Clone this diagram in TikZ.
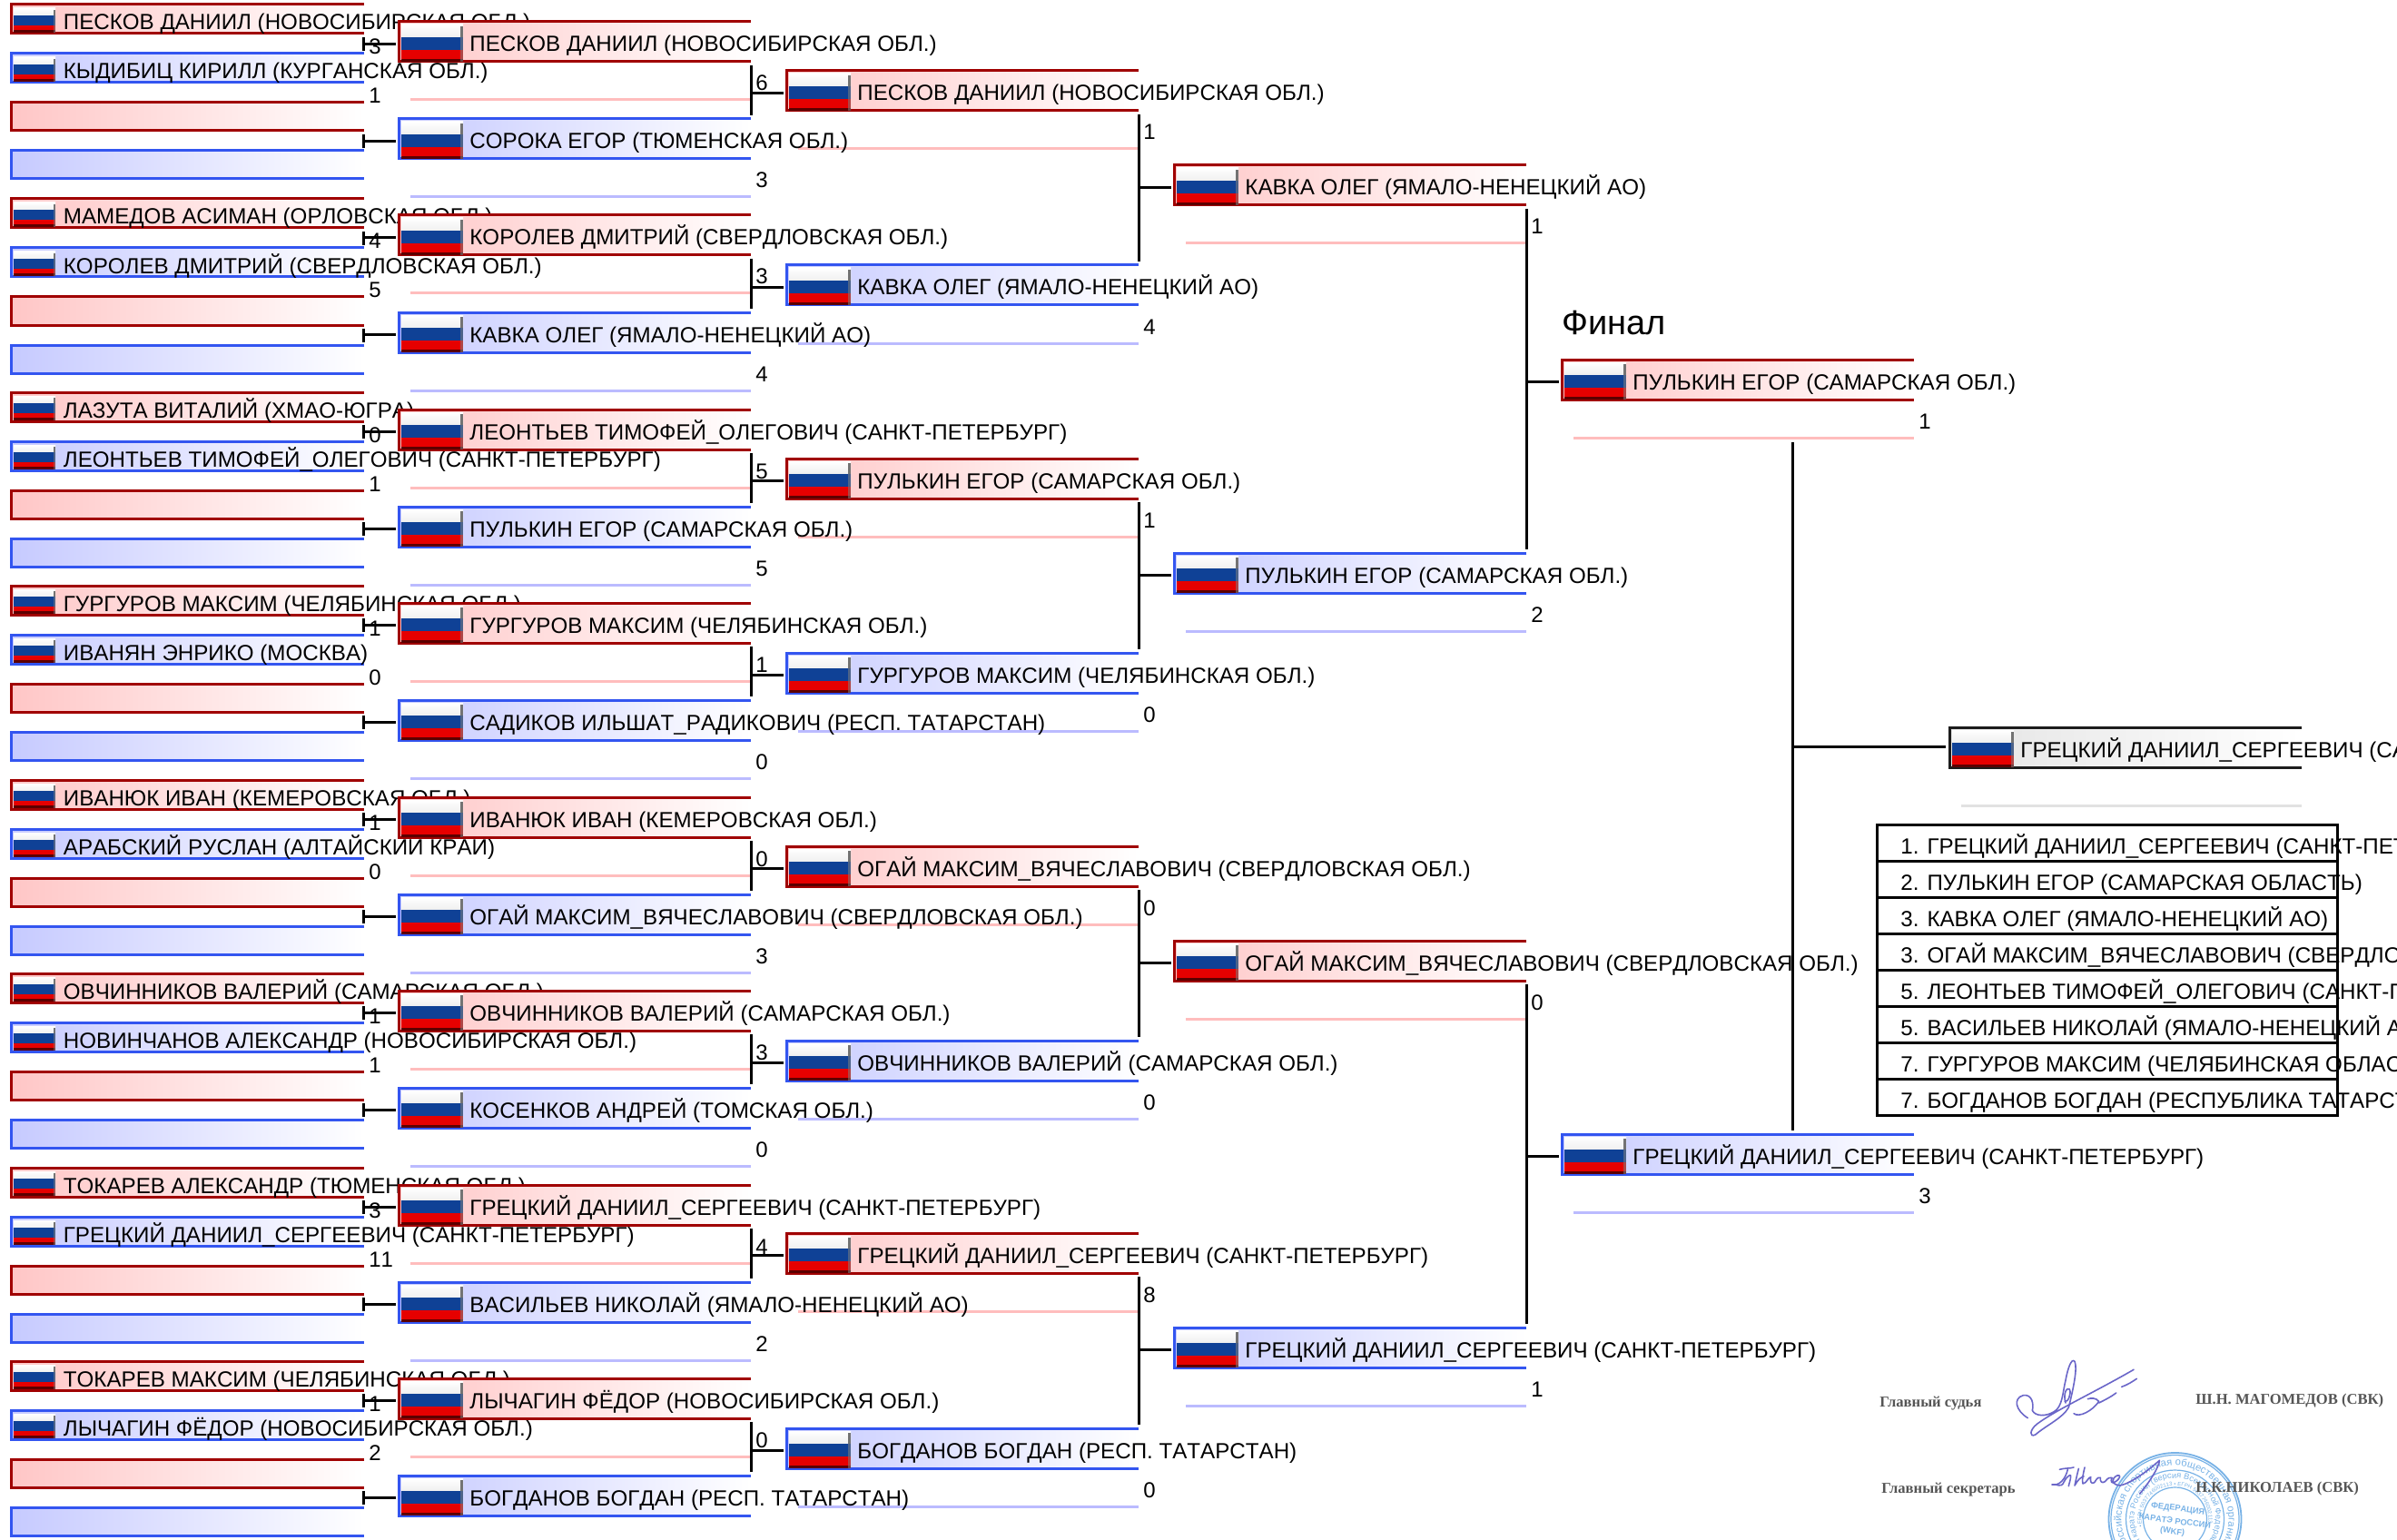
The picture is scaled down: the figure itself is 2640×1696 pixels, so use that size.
\documentclass[tikz,border=0pt]{standalone}
\usepackage{fontspec}
\setmainfont{Liberation Sans}[Kerning=Off]
\newfontfamily\serifb{Liberation Serif}[BoldFont={Liberation Serif Bold}]
\usetikzlibrary{decorations.text}
\pgfdeclarelayer{under}
\pgfsetlayers{under,main}
\definecolor{edgeR}{HTML}{A00000}
\definecolor{fillR}{HTML}{FFC6C6}
\definecolor{lineR}{HTML}{FFBDBD}
\definecolor{edgeB}{HTML}{3355F0}
\definecolor{fillB}{HTML}{C6CAFF}
\definecolor{lineB}{HTML}{BBBBFF}
\definecolor{edgeK}{HTML}{1C1C1C}
\definecolor{fillK}{HTML}{E4E4E4}
\definecolor{lineK}{HTML}{E2E2E2}
\definecolor{stampc}{HTML}{78B2E6}
\definecolor{signc}{HTML}{6A66C8}
\definecolor{signt}{HTML}{555555}
\definecolor{flagB}{HTML}{0F4196}
\definecolor{flagR}{HTML}{E60000}
\definecolor{flagD}{HTML}{5C0000}
\tikzset{
  name text/.style={font=\fontsize{12.08}{14}\selectfont,inner sep=0pt,anchor=base west,text=black},
  score text/.style={font=\fontsize{12}{14}\selectfont,inner sep=0pt,anchor=base west,text=black},
  frame line/.style={line width=1.5pt,line cap=butt},
  under line/.style={line width=1.5pt},
  conn/.style={line width=1.5pt,draw=black},
  sign text/.style={font=\serifb\bfseries\fontsize{8.3}{10}\selectfont,inner sep=0pt,anchor=base west,text=signt},
  row text/.style={font=\fontsize{12.08}{14}\selectfont,inner sep=0pt,anchor=base west,text=black},
  rank row/.style={draw=black,line width=1.5pt},
  sign pen/.style={draw=signc,line width=0.8pt,line cap=round,line join=round},
  stamp ring/.style={draw=stampc,line width=0.6pt},
  stamp word/.style={font=\bfseries\fontsize{4.6}{5.5}\selectfont,text=stampc,inner sep=0pt,rotate=-8}
}
% flag: x, y, w, h, blue start, red start, dark start (fractions)
\newcommand\rfflag[7]{%
  \fill[white] (#1,#2) rectangle (#1+#3,#2+#4);
  \shade[top color=white,bottom color=black!6] (#1,#2) rectangle (#1+#3,#2+#4*#5);
  \fill[flagB] (#1,#2+#4*#5) rectangle (#1+#3,#2+#4*#6);
  \fill[flagR] (#1,#2+#4*#6) rectangle (#1+#3,#2+#4*#7);
  \fill[flagD] (#1,#2+#4*#7) rectangle (#1+#3,#2+#4);
  \fill[black!55] (#1+#3-0.05*#3,#2+#4*0.06) rectangle (#1+#3,#2+#4*#5);
  \fill[black!50,opacity=.55] (#1+#3-0.05*#3,#2+#4*#5) rectangle (#1+#3,#2+#4);
}
% small box: id, colour, top, text, score
\newcommand\smallbox[5]{%
  \shade[left color=fill#2,right color=white] (12,#3) rectangle (401,#3+32);
  \draw[frame line,edge#2] (401,#3) -- (12,#3) -- (12,#3+32) -- (401,#3+32);
  \rfflag{15}{#3+4}{46}{27}{0.30}{0.72}{0.90}
  \node[name text] (#1) at (69.5,#3+28) {#4};
  \node[score text] (#1s) at (406,#3+55) {#5};
  \coordinate (#1b) at (400,#3+36);
  \coordinate (#1t) at (400,#3-3);
}
% empty small box: id, colour, top
\newcommand\emptybox[3]{%
  \shade[left color=fill#2,right color=white] (12,#3) rectangle (401,#3+31);
  \draw[frame line,edge#2] (401,#3) -- (12,#3) -- (12,#3+31) -- (401,#3+31);
  \coordinate (#1b) at (400,#3+35);
  \coordinate (#1t) at (400,#3-3);
}
% big box: id, colour, x, top, text, score
\newcommand\bigbox[6]{%
  \begin{pgfonlayer}{under}
  \draw[under line,line#2] (#3+13,#4+86) -- (#3+388,#4+86);
  \end{pgfonlayer}
  \shade[left color=fill#2,right color=white] (#3,#4) rectangle (#3+388,#4+44);
  \draw[frame line,edge#2] (#3+388,#4) -- (#3,#4) -- (#3,#4+44) -- (#3+388,#4+44);
  \rfflag{#3+3}{#4+3}{68}{41}{0.33}{0.675}{0.925}
  \node[name text] (#1) at (#3+78,#4+33) {#5};
  \node[score text] (#1s) at (#3+393,#4+76) {#6};
  \coordinate (#1b) at (#3+388,#4+48);
  \coordinate (#1t) at (#3+388,#4-4);
  \coordinate (#1w) at (#3-3,#4+24.5);
}
\newcommand\bracket[3]{%
  \draw[conn] (#1b) -- (#2t);
  \draw[conn] (#1b |- #3w) -- (#3w);
}
\newcommand\rankrow[3]{%
  \draw[rank row] (2067,#2) rectangle (2574,#2+40);
  \node[row text] (#1) at (2093,#2+32) {#3};
}
\begin{document}
\begin{tikzpicture}[x=0.5pt,y=-0.5pt]
\useasboundingbox (0,0) rectangle (2640,1696);
\clip (0,0) rectangle (2640,1696);

% ---------- round 1
\smallbox{aa}{R}{5}{ПЕСКОВ ДАНИИЛ (НОВОСИБИРСКАЯ ОБЛ.)}{3}
\smallbox{ab}{B}{59}{КЫДИБИЦ КИРИЛЛ (КУРГАНСКАЯ ОБЛ.)}{1}
\emptybox{ac}{R}{113}
\emptybox{ad}{B}{166}
\smallbox{ba}{R}{219}{МАМЕДОВ АСИМАН (ОРЛОВСКАЯ ОБЛ.)}{4}
\smallbox{bb}{B}{273}{КОРОЛЕВ ДМИТРИЙ (СВЕРДЛОВСКАЯ ОБЛ.)}{5}
\emptybox{bc}{R}{327}
\emptybox{bd}{B}{380}
\smallbox{ca}{R}{432}{ЛАЗУТА ВИТАЛИЙ (ХМАО-ЮГРА)}{0}
\smallbox{cb}{B}{486}{ЛЕОНТЬЕВ ТИМОФЕЙ\_ОЛЕГОВИЧ (САНКТ-ПЕТЕРБУРГ)}{1}
\emptybox{cc}{R}{540}
\emptybox{cd}{B}{593}
\smallbox{da}{R}{645}{ГУРГУРОВ МАКСИМ (ЧЕЛЯБИНСКАЯ ОБЛ.)}{1}
\smallbox{db}{B}{699}{ИВАНЯН ЭНРИКО (МОСКВА)}{0}
\emptybox{dc}{R}{753}
\emptybox{dd}{B}{806}
\smallbox{ea}{R}{859}{ИВАНЮК ИВАН (КЕМЕРОВСКАЯ ОБЛ.)}{1}
\smallbox{eb}{B}{913}{АРАБСКИЙ РУСЛАН (АЛТАЙСКИЙ КРАЙ)}{0}
\emptybox{ec}{R}{967}
\emptybox{ed}{B}{1020}
\smallbox{fa}{R}{1072}{ОВЧИННИКОВ ВАЛЕРИЙ (САМАРСКАЯ ОБЛ.)}{1}
\smallbox{fb}{B}{1126}{НОВИНЧАНОВ АЛЕКСАНДР (НОВОСИБИРСКАЯ ОБЛ.)}{1}
\emptybox{fc}{R}{1180}
\emptybox{fd}{B}{1233}
\smallbox{ga}{R}{1286}{ТОКАРЕВ АЛЕКСАНДР (ТЮМЕНСКАЯ ОБЛ.)}{3}
\smallbox{gb}{B}{1340}{ГРЕЦКИЙ ДАНИИЛ\_СЕРГЕЕВИЧ (САНКТ-ПЕТЕРБУРГ)}{11}
\emptybox{gc}{R}{1394}
\emptybox{gd}{B}{1447}
\smallbox{ha}{R}{1499}{ТОКАРЕВ МАКСИМ (ЧЕЛЯБИНСКАЯ ОБЛ.)}{1}
\smallbox{hb}{B}{1553}{ЛЫЧАГИН ФЁДОР (НОВОСИБИРСКАЯ ОБЛ.)}{2}
\emptybox{hc}{R}{1607}
\emptybox{hd}{B}{1660}

% ---------- round 2
\bigbox{pa}{R}{439}{24}{ПЕСКОВ ДАНИИЛ (НОВОСИБИРСКАЯ ОБЛ.)}{6}
\bigbox{pb}{B}{439}{131}{СОРОКА ЕГОР (ТЮМЕНСКАЯ ОБЛ.)}{3}
\bigbox{pc}{R}{439}{237}{КОРОЛЕВ ДМИТРИЙ (СВЕРДЛОВСКАЯ ОБЛ.)}{3}
\bigbox{pd}{B}{439}{344}{КАВКА ОЛЕГ (ЯМАЛО-НЕНЕЦКИЙ АО)}{4}
\bigbox{pe}{R}{439}{451}{ЛЕОНТЬЕВ ТИМОФЕЙ\_ОЛЕГОВИЧ (САНКТ-ПЕТЕРБУРГ)}{5}
\bigbox{pf}{B}{439}{558}{ПУЛЬКИН ЕГОР (САМАРСКАЯ ОБЛ.)}{5}
\bigbox{pg}{R}{439}{664}{ГУРГУРОВ МАКСИМ (ЧЕЛЯБИНСКАЯ ОБЛ.)}{1}
\bigbox{ph}{B}{439}{771}{САДИКОВ ИЛЬШАТ\_РАДИКОВИЧ (РЕСП. ТАТАРСТАН)}{0}
\bigbox{pi}{R}{439}{878}{ИВАНЮК ИВАН (КЕМЕРОВСКАЯ ОБЛ.)}{0}
\bigbox{pj}{B}{439}{985}{ОГАЙ МАКСИМ\_ВЯЧЕСЛАВОВИЧ (СВЕРДЛОВСКАЯ ОБЛ.)}{3}
\bigbox{pk}{R}{439}{1091}{ОВЧИННИКОВ ВАЛЕРИЙ (САМАРСКАЯ ОБЛ.)}{3}
\bigbox{pl}{B}{439}{1198}{КОСЕНКОВ АНДРЕЙ (ТОМСКАЯ ОБЛ.)}{0}
\bigbox{pm}{R}{439}{1305}{ГРЕЦКИЙ ДАНИИЛ\_СЕРГЕЕВИЧ (САНКТ-ПЕТЕРБУРГ)}{4}
\bigbox{pn}{B}{439}{1412}{ВАСИЛЬЕВ НИКОЛАЙ (ЯМАЛО-НЕНЕЦКИЙ АО)}{2}
\bigbox{po}{R}{439}{1518}{ЛЫЧАГИН ФЁДОР (НОВОСИБИРСКАЯ ОБЛ.)}{0}
\bigbox{pq}{B}{439}{1625}{БОГДАНОВ БОГДАН (РЕСП. ТАТАРСТАН)}{}

\bracket{aa}{ab}{pa}\bracket{ac}{ad}{pb}
\bracket{ba}{bb}{pc}\bracket{bc}{bd}{pd}
\bracket{ca}{cb}{pe}\bracket{cc}{cd}{pf}
\bracket{da}{db}{pg}\bracket{dc}{dd}{ph}
\bracket{ea}{eb}{pi}\bracket{ec}{ed}{pj}
\bracket{fa}{fb}{pk}\bracket{fc}{fd}{pl}
\bracket{ga}{gb}{pm}\bracket{gc}{gd}{pn}
\bracket{ha}{hb}{po}\bracket{hc}{hd}{pq}

% ---------- round 3
\bigbox{qa}{R}{866}{78}{ПЕСКОВ ДАНИИЛ (НОВОСИБИРСКАЯ ОБЛ.)}{1}
\bigbox{qb}{B}{866}{292}{КАВКА ОЛЕГ (ЯМАЛО-НЕНЕЦКИЙ АО)}{4}
\bigbox{qc}{R}{866}{505}{ПУЛЬКИН ЕГОР (САМАРСКАЯ ОБЛ.)}{1}
\bigbox{qd}{B}{866}{719}{ГУРГУРОВ МАКСИМ (ЧЕЛЯБИНСКАЯ ОБЛ.)}{0}
\bigbox{qe}{R}{866}{932}{ОГАЙ МАКСИМ\_ВЯЧЕСЛАВОВИЧ (СВЕРДЛОВСКАЯ ОБЛ.)}{0}
\bigbox{qf}{B}{866}{1146}{ОВЧИННИКОВ ВАЛЕРИЙ (САМАРСКАЯ ОБЛ.)}{0}
\bigbox{qg}{R}{866}{1358}{ГРЕЦКИЙ ДАНИИЛ\_СЕРГЕЕВИЧ (САНКТ-ПЕТЕРБУРГ)}{8}
\bigbox{qh}{B}{866}{1573}{БОГДАНОВ БОГДАН (РЕСП. ТАТАРСТАН)}{0}

\bracket{pa}{pb}{qa}\bracket{pc}{pd}{qb}
\bracket{pe}{pf}{qc}\bracket{pg}{ph}{qd}
\bracket{pi}{pj}{qe}\bracket{pk}{pl}{qf}
\bracket{pm}{pn}{qg}\bracket{po}{pq}{qh}

% ---------- round 4
\bigbox{ra}{R}{1293}{182}{КАВКА ОЛЕГ (ЯМАЛО-НЕНЕЦКИЙ АО)}{1}
\bigbox{rb}{B}{1293}{609}{ПУЛЬКИН ЕГОР (САМАРСКАЯ ОБЛ.)}{2}
\bigbox{rc}{R}{1293}{1036}{ОГАЙ МАКСИМ\_ВЯЧЕСЛАВОВИЧ (СВЕРДЛОВСКАЯ ОБЛ.)}{0}
\bigbox{rd}{B}{1293}{1462}{ГРЕЦКИЙ ДАНИИЛ\_СЕРГЕЕВИЧ (САНКТ-ПЕТЕРБУРГ)}{1}

\bracket{qa}{qb}{ra}\bracket{qc}{qd}{rb}
\bracket{qe}{qf}{rc}\bracket{qg}{qh}{rd}

% ---------- round 5
\node[name text,font=\fontsize{19}{21}\selectfont] (finalhead) at (1720,368) {Финал};
\bigbox{sa}{R}{1720}{396}{ПУЛЬКИН ЕГОР (САМАРСКАЯ ОБЛ.)}{1}
\bigbox{sb}{B}{1720}{1249}{ГРЕЦКИЙ ДАНИИЛ\_СЕРГЕЕВИЧ (САНКТ-ПЕТЕРБУРГ)}{3}
\bracket{ra}{rb}{sa}\bracket{rc}{rd}{sb}

% ---------- winner
\bigbox{wn}{K}{2147}{801}{ГРЕЦКИЙ ДАНИИЛ\_СЕРГЕЕВИЧ (САНКТ-ПЕТЕРБУРГ)}{}
\coordinate (wnw) at (2143,822.5);
\coordinate (finalb) at (1974,487);
\draw[conn] (finalb) -- (finalb |- sbt);
\draw[conn] (finalb |- wnw) -- (wnw);

% ---------- ranking
\rankrow{t1}{908}{1. ГРЕЦКИЙ ДАНИИЛ\_СЕРГЕЕВИЧ (САНКТ-ПЕТЕРБУРГ)}
\rankrow{t2}{948}{2. ПУЛЬКИН ЕГОР (САМАРСКАЯ ОБЛАСТЬ)}
\rankrow{t3}{988}{3. КАВКА ОЛЕГ (ЯМАЛО-НЕНЕЦКИЙ АО)}
\rankrow{t4}{1028}{3. ОГАЙ МАКСИМ\_ВЯЧЕСЛАВОВИЧ (СВЕРДЛОВСКАЯ ОБЛАСТЬ)}
\rankrow{t5}{1068}{5. ЛЕОНТЬЕВ ТИМОФЕЙ\_ОЛЕГОВИЧ (САНКТ-ПЕТЕРБУРГ)}
\rankrow{t6}{1108}{5. ВАСИЛЬЕВ НИКОЛАЙ (ЯМАЛО-НЕНЕЦКИЙ АО)}
\rankrow{t7}{1148}{7. ГУРГУРОВ МАКСИМ (ЧЕЛЯБИНСКАЯ ОБЛАСТЬ)}
\rankrow{t8}{1188}{7. БОГДАНОВ БОГДАН (РЕСПУБЛИКА ТАТАРСТАН)}

% ---------- stamp
\begin{scope}[shift={(2395.5,1673)},x=0.5pt,y=0.5pt]
  \draw[stamp ring,line width=0.9pt] (0,0) circle[radius=73];
  \draw[stamp ring] (0,0) circle[radius=70.5];
  \draw[stamp ring] (0,0) circle[radius=54];
  \draw[stamp ring] (0,0) circle[radius=35];
  \path[decorate,decoration={text along path,text align=center,text color=stampc,
    text={|\fontsize{5.6}{7}\selectfont|Всероссийская спортивная общественная организация}}]
    (0,0) ++(240:59) arc[start angle=240,end angle=-60,radius=59];
  \path[decorate,decoration={text along path,text align=center,text color=stampc,
    text={|\fontsize{4.6}{6}\selectfont|федерация каратэ России (версия Всемирной Федерации каратэ)}}]
    (0,0) ++(240:45) arc[start angle=240,end angle=-60,radius=45];
  \path[decorate,decoration={text along path,text align=center,text color=stampc,
    text={|\fontsize{3}{4}\selectfont|• ЕГРН 5037746002113 • ЕГРН 5037746002113 •}}]
    (0,0) ++(220:37) arc[start angle=220,end angle=-40,radius=37];
  \node[stamp word] (st1) at (3,11) {ФЕДЕРАЦИЯ};
  \node[stamp word] (st2) at (0,-2) {КАРАТЭ РОССИИ};
  \node[stamp word] (st3) at (-3,-14) {(WKF)};
\end{scope}

% ---------- signatures
\begin{scope}[shift={(2200,1490)},x=0.1667pt,y=-0.1667pt]
  \draw[sign pen] (100,215) .. controls (60,190) and (50,150) .. (85,140)
    .. controls (115,135) and (120,170) .. (115,190)
    .. controls (125,210) and (160,210) .. (185,195)
    .. controls (215,180) and (215,130) .. (225,90)
    .. controls (232,50) and (245,15) .. (255,28)
    .. controls (265,50) and (250,120) .. (235,180)
    .. controls (215,215) and (160,240) .. (125,270)
    .. controls (105,280) and (105,255) .. (130,235)
    .. controls (190,190) and (320,130) .. (450,55);
  \draw[sign pen] (225,165) .. controls (215,135) and (230,110) .. (238,120)
    .. controls (245,135) and (232,165) .. (222,160);
  \draw[sign pen] (252,200) .. controls (270,215) and (315,190) .. (335,160)
    .. controls (325,148) and (310,148) .. (298,152);
  \draw[sign pen] (335,165) .. controls (355,155) and (375,145) .. (392,132);
  \draw[sign pen] (410,112) .. controls (430,105) and (445,95) .. (460,85);
\end{scope}
\begin{scope}[shift={(2250,1590)},x=0.1667pt,y=-0.1667pt]
  \draw[sign pen] (55,85) .. controls (70,80) and (90,82) .. (102,78);
  \draw[sign pen] (82,85) .. controls (75,115) and (55,140) .. (30,135)
    .. controls (45,130) and (60,150) .. (70,125)
    .. controls (78,110) and (90,100) .. (92,105)
    .. controls (92,120) and (85,135) .. (85,140);
  \draw[sign pen] (118,82) .. controls (112,105) and (108,125) .. (105,138)
    .. controls (115,120) and (125,110) .. (135,108);
  \draw[sign pen] (138,78) .. controls (133,100) and (128,120) .. (132,132)
    .. controls (145,130) and (150,110) .. (158,110)
    .. controls (155,125) and (160,135) .. (170,128)
    .. controls (180,112) and (185,108) .. (190,112)
    .. controls (188,125) and (195,132) .. (205,125)
    .. controls (215,112) and (222,110) .. (228,112)
    .. controls (222,125) and (228,135) .. (240,125)
    .. controls (258,112) and (258,102) .. (245,105)
    .. controls (225,115) and (225,135) .. (255,138)
    .. controls (290,130) and (340,95) .. (385,55)
    .. controls (385,75) and (350,130) .. (320,165);
\end{scope}

% ---------- signature captions
\node[sign text] (j1) at (2070,1549) {Главный судья};
\node[sign text] (j2) at (2418,1546) {Ш.Н. МАГОМЕДОВ (СВК)};
\node[sign text] (j3) at (2072,1644) {Главный секретарь};
\node[sign text] (j4) at (2418,1643) {Н.К.НИКОЛАЕВ (СВК)};
\end{tikzpicture}
\end{document}
